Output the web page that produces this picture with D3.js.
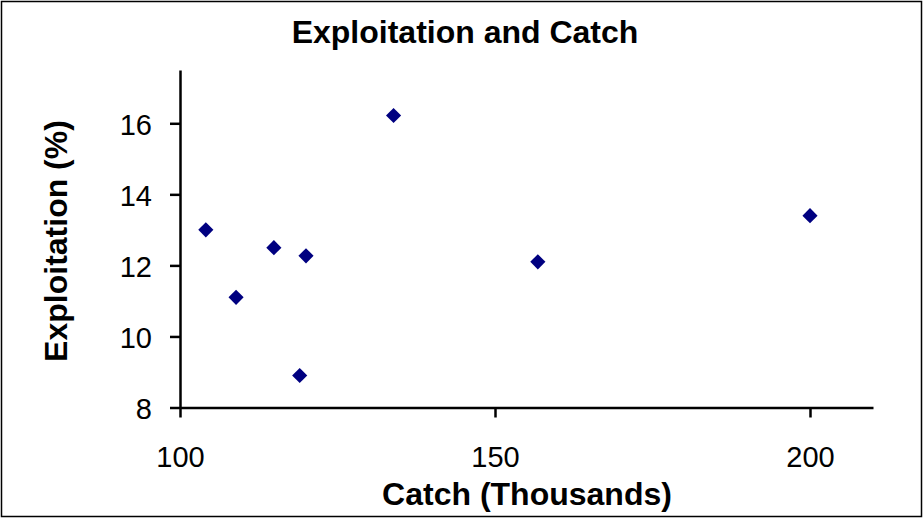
<!DOCTYPE html>
<html><head><meta charset="utf-8">
<script src="https://cdn.jsdelivr.net/npm/d3@7"></script>
<style>body{margin:0;background:#fff}svg{display:block}</style>
</head><body>
<svg id="c" width="923" height="519"></svg>
<script>
const catchVals = [104.1, 108.9, 114.9, 119.0, 120.0, 133.9, 156.8, 200.0];
const exploitVals = [13.0, 11.1, 12.5, 8.9, 12.27, 16.22, 12.1, 13.4];
const xTicks = [100, 150, 200];
const yTicks = [8, 10, 12, 14, 16];
const title = "Exploitation and Catch";
const xLabel = "Catch (Thousands)";
const yLabel = "Exploitation (%)";

const FONT = '"Liberation Sans",Arial,sans-serif';
const svg = d3.select("#c");
svg.append("rect").attr("x",1.5).attr("y",1.5).attr("width",920).attr("height",515)
  .attr("fill","#fff").attr("stroke","#000").attr("stroke-width",1.5);

const x = d3.scaleLinear().domain([100,210]).range([180,873]);
const y = d3.scaleLinear().domain([8,17.5]).range([407.5,70]);

const xAxis = svg.append("g").attr("transform","translate(0,407.5)")
  .call(d3.axisBottom(x).tickValues(xTicks).tickSize(10).tickSizeOuter(0).tickPadding(0));
const yAxis = svg.append("g").attr("transform","translate(180,0)")
  .call(d3.axisLeft(y).tickValues(yTicks).tickSize(10).tickSizeOuter(0).tickPadding(0));
[xAxis,yAxis].forEach(a=>{
  a.attr("font-size",null).attr("font-family",null);
  a.selectAll("path,line").attr("stroke","#000").attr("stroke-width",2.5);
  a.selectAll("text").style("font-size","29px").style("font-family",FONT).attr("fill","#000");
});
xAxis.selectAll("text").attr("dy",null).attr("y",59);
yAxis.selectAll("text").attr("dy","0.38em").attr("x",-28);

const data = catchVals.map((c,i)=>({c, e: exploitVals[i]}));
const diamond = d3.symbol(d3.symbolSquare, 115)();
svg.append("g").selectAll("path").data(data).join("path")
  .attr("d", diamond)
  .attr("transform", d=>`translate(${x(d.c)},${y(d.e)}) rotate(45)`)
  .attr("fill","#000080");

const lab = (s)=>s.style("font-family",FONT).style("font-size","32px").attr("font-weight","bold").attr("text-anchor","middle");
svg.append("text").attr("x",465).attr("y",43).call(lab).text(title);
svg.append("text").attr("x",527).attr("y",505).call(lab).text(xLabel);
svg.append("text").attr("transform","translate(67,241) rotate(-90)").call(lab).text(yLabel);
</script>
</body></html>
